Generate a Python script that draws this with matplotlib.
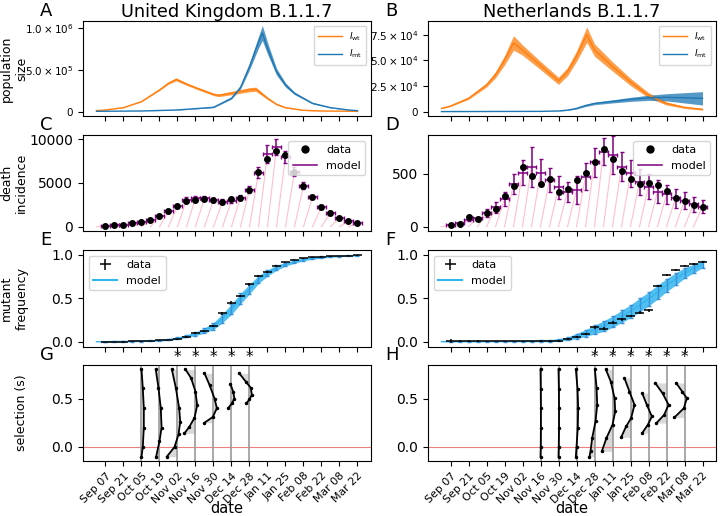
import numpy as np
import matplotlib
matplotlib.use("Agg")
import matplotlib.pyplot as plt
import matplotlib.dates as mdates
import matplotlib.transforms as mtransforms
from matplotlib.lines import Line2D

# all times are days counted from Mon 7 Sep 2020
START = np.datetime64("2020-09-07")
WEEKS = np.arange(29) * 7            # weekly data, Sep 07 ... Mar 22
MODEL_WEEKS = np.arange(-1, 29) * 7  # model output starts one week earlier
TICK_DAYS = np.arange(15) * 14

COUNTRIES = ["United Kingdom B.1.1.7", "Netherlands B.1.1.7"]

# ---- A/B: population size (ensemble centre and half-spread) -----------------
UK_WT_DAYS = [-7, 0, 14, 28, 42, 49, 55, 63, 70, 84, 88, 98, 112, 117, 126, 133, 140, 154, 168, 196]
UK_WT = [12e3, 20e3, 48e3, 120e3, 260e3, 340e3, 386e3, 330e3, 287e3, 207e3, 195e3, 222e3,
         262e3, 268e3, 160e3, 88e3, 48e3, 16e3, 8e3, 4e3]
UK_WT_SPREAD = [1e3, 1e3, 2e3, 3e3, 8e3, 12e3, 18e3, 15e3, 14e3, 15e3, 16e3, 20e3,
                25e3, 25e3, 15e3, 8e3, 5e3, 2e3, 1e3, 1e3]
UK_MT_DAYS = [-7, 28, 56, 84, 98, 105, 112, 119, 122, 126, 133, 140, 147, 161, 175, 189, 196]
UK_MT = [4e3, 8e3, 20e3, 52e3, 160e3, 290e3, 540e3, 830e3, 940e3, 760e3, 478e3, 319e3,
         219e3, 100e3, 48e3, 20e3, 12e3]
UK_MT_SPREAD = [0, 500, 2e3, 5e3, 10e3, 20e3, 40e3, 70e3, 90e3, 70e3, 40e3, 25e3,
                15e3, 8e3, 4e3, 2e3, 1e3]

NL_WT_DAYS = [-7, 0, 14, 28, 35, 42, 49, 56, 70, 84, 91, 98, 106, 112, 126, 140, 154, 168, 182, 196]
NL_WT = [3.2e3, 5.5e3, 13e3, 26e3, 36e3, 50e3, 67e3, 60e3, 45e3, 30e3, 39e3, 54e3,
         75e3, 60e3, 44e3, 29e3, 16e3, 8e3, 4.2e3, 2.3e3]
NL_WT_SPREAD = [300, 500, 1e3, 2e3, 3e3, 4.5e3, 7e3, 5e3, 4e3, 3.5e3, 4e3, 5e3,
                7.5e3, 6e3, 4.5e3, 3.5e3, 2.5e3, 1.5e3, 1e3, 800]
NL_MT_DAYS = [-7, 70, 84, 91, 98, 105, 112, 126, 140, 154, 168, 182, 196]
NL_MT = [100, 300, 700, 1.5e3, 3.2e3, 6e3, 8e3, 10e3, 12e3, 13.5e3, 14e3, 13.5e3, 13e3]
NL_MT_SPREAD = [0, 50, 100, 300, 600, 1e3, 1.2e3, 1.5e3, 2e3, 2.5e3, 3.5e3, 5e3, 6.5e3]

# ---- C/D: weekly death incidence --------------------------------------------
UK_DEATHS = [115, 150, 230, 380, 530, 760, 1220, 1760, 2330, 2900, 3060, 3170, 3020, 2870,
             3130, 3320, 4240, 6300, 7790, 8670, 8170, 6260, 4700, 3360, 2250, 1600, 1030, 690, 460]
UK_DEATHS_MODEL = [90, 160, 250, 380, 510, 780, 1200, 1750, 2380, 3100, 3250, 3270, 3080, 2870,
                   2950, 3330, 4250, 6180, 8320, 9080, 8010, 6300, 4700, 3400, 2270, 1600, 1030, 680, 420]
UK_DEATHS_ERR = [30, 40, 50, 60, 80, 100, 150, 200, 250, 250, 250, 250, 250, 250,
                 250, 300, 350, 650, 1000, 900, 700, 500, 400, 250, 200, 150, 100, 80, 60]

NL_DEATHS = [13, 25, 95, 76, 127, 168, 291, 389, 567, 481, 405, 456, 332, 361,
             443, 506, 611, 741, 639, 532, 453, 408, 411, 399, 342, 272, 247, 209, 190]
NL_DEATHS_MODEL = [16, 38, 63, 82, 127, 184, 263, 402, 513, 570, 513, 443, 373, 332,
                   348, 475, 611, 712, 680, 570, 506, 427, 380, 332, 307, 269, 247, 215, 190]
NL_DEATHS_ERR = [5, 8, 10, 12, 38, 51, 63, 95, 120, 190, 127, 111, 106, 95,
                 130, 127, 139, 127, 180, 138, 127, 122, 119, 111, 90, 87, 79, 71, 63]

# ---- E/F: mutant frequency --------------------------------------------------
UK_FREQ = [0.0, 0.0, 0.002, 0.004, 0.006, 0.01, 0.015, 0.02, 0.027, 0.055, 0.103, 0.119, 0.18,
           0.326, 0.448, 0.525, 0.659, 0.755, 0.805, 0.874, 0.912, 0.94, 0.958, 0.969, 0.977,
           0.98, 0.985, 0.988, 0.992]
UK_FREQ_ERR = [0.003, 0.003, 0.003, 0.003, 0.004, 0.004, 0.005, 0.005, 0.006, 0.008, 0.01, 0.01,
               0.012, 0.015, 0.015, 0.015, 0.015, 0.012, 0.01, 0.01, 0.008, 0.006, 0.005, 0.005,
               0.004, 0.004, 0.003, 0.003, 0.003]
UK_FREQ_MODEL = [0.0, 0.001, 0.002, 0.003, 0.005, 0.007, 0.01, 0.015, 0.025, 0.04, 0.065, 0.09,
                 0.13, 0.18, 0.27, 0.375, 0.495, 0.605, 0.715, 0.79, 0.85, 0.89, 0.92, 0.945,
                 0.96, 0.97, 0.978, 0.984, 0.988, 0.99]
UK_FREQ_SPREAD = [0.0, 0.002, 0.002, 0.003, 0.004, 0.005, 0.006, 0.008, 0.01, 0.012, 0.015, 0.02,
                  0.03, 0.04, 0.05, 0.06, 0.06, 0.055, 0.045, 0.035, 0.03, 0.02, 0.018, 0.015,
                  0.012, 0.01, 0.008, 0.006, 0.005, 0.004]

NL_FREQ = [0.01, 0.01, 0.008, 0.008, 0.006, 0.006, 0.006, 0.005, 0.005, 0.006, 0.008, 0.008,
           0.012, 0.03, 0.057, 0.085, 0.165, 0.15, 0.22, 0.257, 0.295, 0.333, 0.36, 0.64,
           0.767, 0.824, 0.87, 0.89, 0.913]
NL_FREQ_ERR = [0.02, 0.012, 0.01, 0.01, 0.008, 0.008, 0.008, 0.008, 0.008, 0.008, 0.008, 0.008,
               0.01, 0.01, 0.012, 0.012, 0.015, 0.015, 0.015, 0.015, 0.015, 0.015, 0.015, 0.015,
               0.015, 0.012, 0.012, 0.01, 0.01]
NL_FREQ_MODEL = [0.002, 0.002, 0.003, 0.003, 0.003, 0.004, 0.004, 0.005, 0.005, 0.006, 0.007,
                 0.008, 0.01, 0.02, 0.035, 0.065, 0.1, 0.14, 0.18, 0.23, 0.29, 0.35, 0.42, 0.49,
                 0.57, 0.65, 0.72, 0.79, 0.84, 0.89]
NL_FREQ_SPREAD = [0.002, 0.003, 0.003, 0.003, 0.003, 0.004, 0.004, 0.005, 0.005, 0.006, 0.007,
                  0.008, 0.01, 0.015, 0.02, 0.03, 0.04, 0.05, 0.06, 0.065, 0.07, 0.075, 0.08, 0.08,
                  0.08, 0.075, 0.07, 0.06, 0.05, 0.04]

# ---- G/H: selection coefficient profiles ------------------------------------
UK_SEL_DAYS = [28, 42, 56, 70, 84, 98, 112]
UK_SEL_STAR = [False, False, True, True, True, True, True]
UK_SEL_S = [
    [0.8, 0.61, 0.4, 0.2, 0.0, -0.1],
    [0.8, 0.61, 0.4, 0.2, 0.06, -0.1],
    [0.8, 0.61, 0.4, 0.26, 0.13, 0.0, -0.1],
    [0.8, 0.71, 0.57, 0.43, 0.3, 0.21, 0.14],
    [0.76, 0.64, 0.5, 0.4, 0.31, 0.25],
    [0.65, 0.57, 0.5, 0.45, 0.4],
    [0.76, 0.67, 0.61, 0.54, 0.49, 0.45],
]
UK_SEL_OFFSET = [
    [0.0, 1.0, 1.8, 1.8, 1.0, 0.0],
    [-2.9, -0.8, 1.0, 1.6, 0.0, -2.6],
    [-4.4, -1.3, 1.3, 2.1, 0.8, -2.3, -8.3],
    [-7.8, -3.4, 0.0, 1.3, -0.8, -4.7, -8.6],
    [-7.0, -3.1, 0.8, 2.6, -0.5, -7.0],
    [-0.8, 1.3, 2.3, 0.3, -2.6],
    [-8.0, -2.6, 1.0, 1.8, 0.0, -2.6],
]
NL_SEL_DAYS = [70, 84, 98, 112, 126, 140, 154, 168, 182]
NL_SEL_STAR = [False, False, False, True, True, True, True, True, True]
NL_SEL_S = [
    [0.8, 0.6, 0.4, 0.2, 0.0, -0.1],
    [0.8, 0.6, 0.4, 0.2, 0.0, -0.1],
    [0.8, 0.6, 0.4, 0.2, 0.0, -0.1],
    [0.8, 0.61, 0.435, 0.264, 0.092, -0.045, -0.1],
    [0.8, 0.675, 0.503, 0.366, 0.229, 0.092, -0.045],
    [0.71, 0.572, 0.435, 0.298, 0.212, 0.099],
    [0.555, 0.435, 0.315, 0.229, 0.144],
    [0.66, 0.555, 0.435, 0.332, 0.247],
    [0.66, 0.572, 0.503, 0.4, 0.305],
]
NL_SEL_OFFSET = [
    [0.0, 0.2, 0.3, 0.3, 0.2, 0.0],
    [0.0, 0.3, 0.4, 0.4, 0.2, 0.0],
    [-0.5, 0.8, 1.3, 1.0, 0.0, -0.5],
    [0.3, 1.6, 2.1, 0.8, -1.8, -3.1, -3.9],
    [-5.2, -1.3, 1.6, 2.1, 0.0, -4.7, -8.3],
    [-4.7, -0.8, 3.1, 0.5, -3.4, -7.3],
    [-4.9, -1.3, 2.6, -0.5, -4.9],
    [-8.8, -3.1, 1.6, -1.8, -7.8],
    [-6.5, -1.8, 1.8, -0.5, -7.8],
]

ORANGE = "#ff7f0e"
BLUE = "#1f77b4"
SKY = "#33b5ee"
SKY_BAR = "#3a8fd6"


def to_num(days):
    return mdates.date2num(START) + np.asarray(days, dtype=float)


def style_dates(ax, show_labels):
    ax.set_xlim(to_num(-17.5), to_num(206.5))
    ax.set_xticks(to_num(TICK_DAYS))
    ax.xaxis.set_major_formatter(mdates.DateFormatter("%b %d"))
    if show_labels:
        plt.setp(ax.get_xticklabels(), rotation=45, ha="right",
                 rotation_mode="anchor", fontsize=7.8)
        ax.set_xlabel("date", fontsize=10.5)
        # the rotated dates leave little room, so pin the label just under them
        ax.xaxis.set_label_coords(0.5, -0.415)
    else:
        ax.tick_params(labelbottom=False)
    ax.tick_params(axis="y", labelsize=10)


def panel_letter(ax, letter):
    ax.text(-0.149, 1.01, letter, transform=ax.transAxes, fontsize=13,
            ha="left", va="bottom")


def plot_population(ax, wt, mt, ylim, yticks, yticklabels):
    for (days, mean, spread), col in zip([wt, mt], [ORANGE, BLUE]):
        x = to_num(days)
        m = np.array(mean)
        sp = np.array(spread)
        ax.fill_between(x, m - sp, m + sp, color=col, alpha=0.75, lw=0)
        ax.plot(x, m, color=col, lw=1.0)
    handles = [Line2D([], [], color=ORANGE, lw=1.0),
               Line2D([], [], color=BLUE, lw=1.0)]
    ax.legend(handles, [r"$I_{\rm wt}$", r"$I_{\rm mt}$"], loc="upper right",
              fontsize=6.5, handlelength=2.6, borderpad=0.5, labelspacing=0.6)
    ax.set_ylim(*ylim)
    ax.set_yticks(yticks)
    ax.set_yticklabels(yticklabels, fontsize=7.5)


def plot_deaths(ax, data, model, err, ylim, yticks):
    t = to_num(WEEKS)
    for ti, mi in zip(t, model):
        ax.plot([ti - 7, ti], [0, mi], color="pink", lw=0.8, zorder=1)
    ax.errorbar(t, model, xerr=3.5, yerr=err, fmt="none", ecolor="purple",
                elinewidth=1.1, capsize=1.5, zorder=2)
    ax.plot(t, data, "o", color="k", ms=4, zorder=3)
    handles = [Line2D([], [], marker="o", ls="none", color="k", ms=5),
               Line2D([], [], color="purple", lw=1.1)]
    ax.legend(handles, ["data", "model"], loc="upper right", fontsize=8,
              handlelength=2.2)
    ax.set_ylim(*ylim)
    ax.set_yticks(yticks)


def plot_freq(ax, data, err, model, spread):
    t = to_num(WEEKS)
    tm = to_num(MODEL_WEEKS)
    m = np.array(model)
    sp = np.array(spread)
    ax.fill_between(tm, m - sp, m + sp, color=SKY, alpha=0.85, lw=0, zorder=1)
    ax.plot(tm, m, color=SKY, lw=1.0, zorder=1)
    ax.errorbar(t, m[1:], yerr=sp[1:], fmt="none", ecolor=SKY_BAR,
                elinewidth=1.0, capsize=1.5, zorder=2)
    cont = ax.errorbar(t, data, xerr=3.5, yerr=err, fmt="none", ecolor="k",
                       elinewidth=1.1, zorder=3)
    handles = [cont, Line2D([], [], color=SKY, lw=1.5)]
    ax.legend(handles, ["data", "model"], loc="upper left", fontsize=8,
              handlelength=2.2)
    ax.set_ylim(-0.06, 1.054)
    ax.set_yticks([0.0, 0.5, 1.0])


def plot_selection(ax, days, stars, s_list, off_list):
    trans = mtransforms.blended_transform_factory(ax.transData, ax.transAxes)
    for d, star, s, off in zip(days, stars, s_list, off_list):
        x0 = to_num(d)
        xs = x0 + np.array(off)
        ax.axvline(x0, color="0.6", lw=1.2, zorder=1)
        ax.fill_betweenx(s, x0, xs, color="0.85", lw=0, zorder=0.5)
        ax.plot(xs, s, color="k", lw=1.3, marker=".", ms=3, zorder=3)
        if star:
            ax.text(x0, 1.0, "*", transform=trans, ha="center", va="bottom",
                    fontsize=11)
    ax.axhline(0, color="#f08080", lw=0.8, zorder=0.8)
    ax.set_ylim(-0.145, 0.846)
    ax.set_yticks([0.0, 0.5])


def main():
    fig = plt.figure(figsize=(7.2, 5.16), dpi=100)
    col_x = [83 / 720, 428 / 720]
    width = 288 / 720
    rows = [(116, 95), (231, 96), (347, 97), (461, 96)]
    axes = [[fig.add_axes([cx, 1 - b / 516, width, h / 516]) for (b, h) in rows]
            for cx in col_x]

    letters = [["A", "C", "E", "G"], ["B", "D", "F", "H"]]
    for c in range(2):
        for r in range(4):
            style_dates(axes[c][r], r == 3)
            panel_letter(axes[c][r], letters[c][r])
        axes[c][0].set_title(COUNTRIES[c], fontsize=12.8, pad=3)

    plot_population(axes[0][0], (UK_WT_DAYS, UK_WT, UK_WT_SPREAD),
                    (UK_MT_DAYS, UK_MT, UK_MT_SPREAD), (-0.052e6, 1.084e6),
                    [0, 5e5, 1e6], ["0", r"$5.0\times10^{5}$", r"$1.0\times10^{6}$"])
    plot_population(axes[1][0], (NL_WT_DAYS, NL_WT, NL_WT_SPREAD),
                    (NL_MT_DAYS, NL_MT, NL_MT_SPREAD), (-4.2e3, 88.3e3),
                    [0, 2.5e4, 5e4, 7.5e4],
                    ["0", r"$2.5\times10^{4}$", r"$5.0\times10^{4}$", r"$7.5\times10^{4}$"])

    plot_deaths(axes[0][1], UK_DEATHS, UK_DEATHS_MODEL, UK_DEATHS_ERR,
                (-490, 10490), [0, 5000, 10000])
    plot_deaths(axes[1][1], NL_DEATHS, NL_DEATHS_MODEL, NL_DEATHS_ERR,
                (-41, 870), [0, 500])

    plot_freq(axes[0][2], UK_FREQ, UK_FREQ_ERR, UK_FREQ_MODEL, UK_FREQ_SPREAD)
    plot_freq(axes[1][2], NL_FREQ, NL_FREQ_ERR, NL_FREQ_MODEL, NL_FREQ_SPREAD)

    plot_selection(axes[0][3], UK_SEL_DAYS, UK_SEL_STAR, UK_SEL_S, UK_SEL_OFFSET)
    plot_selection(axes[1][3], NL_SEL_DAYS, NL_SEL_STAR, NL_SEL_S, NL_SEL_OFFSET)

    ylabels = ["population\nsize", "death\nincidence", "mutant\nfrequency", "selection (s)"]
    for r, lab in enumerate(ylabels):
        axes[0][r].set_ylabel(lab, fontsize=9)
        axes[0][r].yaxis.set_label_coords(-0.19, 0.5)

    fig.savefig("out.png", dpi=100)
    plt.close(fig)


if __name__ == "__main__":
    main()
